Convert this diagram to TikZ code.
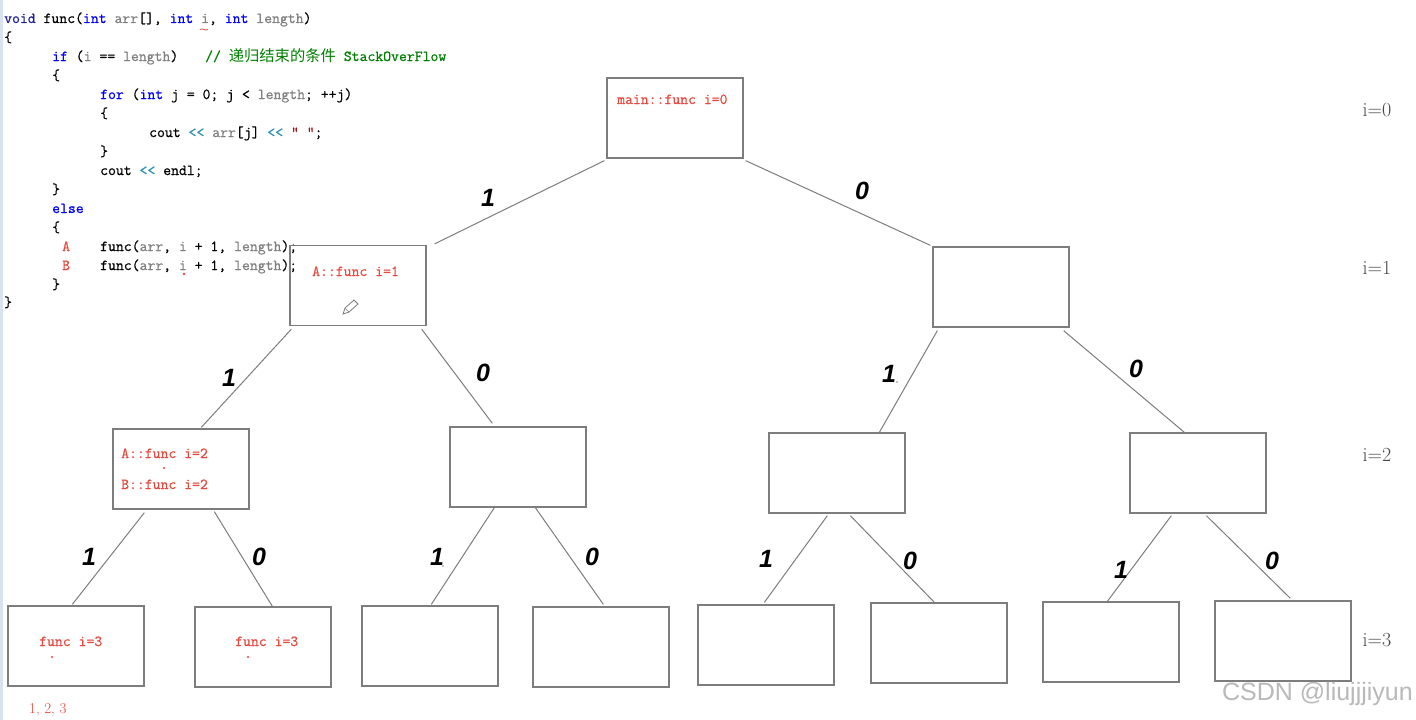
\documentclass[tikz,border=0pt]{standalone}
\usepackage{fontspec}
\newfontfamily\cjkfont{Noto Sans CJK SC}
\newfontfamily\labfont{Liberation Sans}
\newfontfamily\codefam{Latin Modern Mono}[FakeBold=0.7]
\usetikzlibrary{calc}
\definecolor{kwc}{RGB}{0,0,255}
\definecolor{voidc}{RGB}{30,30,150}
\definecolor{prmc}{RGB}{128,128,128}
\definecolor{cmtc}{RGB}{0,128,0}
\definecolor{opc}{RGB}{43,145,175}
\definecolor{strc}{RGB}{163,21,21}
\definecolor{redt}{RGB}{232,72,62}
\definecolor{boxc}{RGB}{125,125,125}
\definecolor{leftc}{RGB}{215,228,240}
\definecolor{lvlc}{RGB}{70,70,70}
\newcommand\mycodefont{\codefam\fontsize{15.3}{18}\selectfont}
\newcommand\CKw[1]{\textcolor{kwc}{#1}}
\newcommand\CVd[1]{\textcolor{voidc}{#1}}
\newcommand\CPr[1]{\textcolor{prmc}{#1}}
\newcommand\COp[1]{\textcolor{opc}{#1}}
\newcommand\CSt[1]{\textcolor{strc}{#1}}
\begin{document}
\begin{tikzpicture}[x=1pt,y=-1pt,
  code/.style={anchor=base west, inner sep=0pt, font=\mycodefont},
  redtxt/.style={anchor=base west, inner sep=0pt, font=\mycodefont, text=redt},
  box/.style={draw=boxc, line width=1.3pt, minimum width=136pt, minimum height=80pt, inner sep=0pt},
  conn/.style={draw=boxc, line width=1pt},
  bit/.style={inner sep=0pt, font=\labfont\bfseries\itshape\fontsize{25}{25}\selectfont},
  lvl/.style={inner sep=0pt, text=lvlc, font=\rmfamily\fontsize{20}{20}\selectfont}]
\fill[white] (0,0) rectangle (1416,720);
\useasboundingbox (0,0) rectangle (1416,720);
\fill[leftc] (0,0) rectangle (2.5,720);

% ---- code ----
\node[code] (c1) at (4,23) {\CVd{void} func(\CKw{int} \CPr{arr}[], \CKw{int} \CPr{i}, \CKw{int} \CPr{length})};
\node[code] (c2) at (4,42) {\{};
\node[code] (c3) at (52,61) {\CKw{if} (\CPr{i} == \CPr{length})};
\node[code, text=cmtc] (c3b) at (205,61) {// {\cjkfont\fontsize{15.3}{18}\selectfont 递归结束的条件}\ StackOverFlow};
\node[code] (c4) at (52,80) {\{};
\node[code] (c5) at (100,99) {\CKw{for} (\CKw{int} j = 0; j < \CPr{length}; ++j)};
\node[code] (c6) at (100,118) {\{};
\node[code] (c7) at (149,137) {cout \COp{<<} \CPr{arr}[j] \COp{<<} \CSt{" "};};
\node[code] (c8) at (100,156) {\}};
\node[code] (c9) at (100,175) {cout \COp{<<} endl;};
\node[code] (c10) at (52,194) {\}};
\node[code] (c11) at (52,213) {\CKw{else}};
\node[code] (c12) at (52,232) {\{};
\node[redtxt] (cA) at (62,251) {A};
\node[code] (c13) at (100,251) {func(\CPr{arr}, \CPr{i} + 1, \CPr{length});};
\node[redtxt] (cB) at (62,270) {B};
\node[code] (c14) at (100,270) {func(\CPr{arr}, \CPr{i} + 1, \CPr{length});};
\node[code] (c15) at (52,289) {\}};
\node[code] (c16) at (4,307) {\}};
\draw[redt, line width=0.8pt] (200,29.5) .. controls (203,27.5) and (205,31.5) .. (208,29.5);
\fill[redt] (184,274) circle (1.3);

% ---- boxes ----
\node[box] (root) at (675,118) {};
\node[box] (L1a) at (358,285.5) {};
\node[box] (L1b) at (1001,287) {};
\node[box] (L2a) at (181,469) {};
\node[box] (L2b) at (518,467) {};
\node[box] (L2c) at (837,473) {};
\node[box] (L2d) at (1198,473) {};
\node[box] (L3a) at (76,646) {};
\node[box] (L3b) at (263,647) {};
\node[box] (L3c) at (430,646) {};
\node[box] (L3d) at (601,647) {};
\node[box] (L3e) at (766,645) {};
\node[box] (L3f) at (939,643) {};
\node[box] (L3g) at (1111,642) {};
\node[box] (L3h) at (1283,641) {};

% ---- box texts ----
\node[redtxt] (t0) at (617,104) {main::func i=0};
\node[redtxt] (t1) at (312,276) {A::func i=1};
\node[redtxt] (t2a) at (121,458) {A::func i=2};
\node[redtxt] (t2b) at (121,489) {B::func i=2};
\fill[redt] (164,468) circle (1.2);
\node[redtxt] (t3a) at (39,646) {func i=3};
\fill[redt] (52,657) circle (1.2);
\node[redtxt] (t3b) at (235,646) {func i=3};
\fill[redt] (248,657) circle (1.2);
\node[anchor=base west, inner sep=0pt, text=redt, font=\rmfamily\fontsize{15}{15}\selectfont] (seq) at (29,713) {1, 2, 3};
% pencil cursor
\draw[boxc, line width=0.8pt, fill=white] (343,314) -- (345,308) -- (354,300) -- (358,304) -- (349,312) -- cycle;
\draw[boxc, line width=0.6pt] (345,308) -- (349,312);

% ---- connectors ----
\draw[conn] ($(root.south west)+(-2,2)$) -- ($(L1a.north east)+(8,-1)$);
\draw[conn] ($(root.south east)+(2,2)$) -- ($(L1b.north west)+(-2,-1)$);
\draw[conn] ($(L1a.south west)+(2,3)$) -- ($(L2a.north west)+(89,-1)$);
\draw[conn] ($(L1a.south east)+(-5,3)$) -- ($(L2b.north west)+(43,-3)$);
\draw[conn] ($(L1b.south west)+(5,3)$) -- ($(L2c.north west)+(111,0)$);
\draw[conn] ($(L1b.south east)+(-6,3)$) -- ($(L2d.north west)+(55,0)$);
\draw[conn] ($(L2a.south west)+(32,3)$) -- ($(L3a.north west)+(65,-1)$);
\draw[conn] ($(L2a.south west)+(102,2)$) -- ($(L3b.north west)+(78,0)$);
\draw[conn] ($(L2b.south west)+(45,0)$) -- ($(L3c.north west)+(70,-1)$);
\draw[conn] ($(L2b.south west)+(86,0)$) -- ($(L3d.north west)+(71,-2)$);
\draw[conn] ($(L2c.south west)+(59,2)$) -- ($(L3e.north west)+(67,-2)$);
\draw[conn] ($(L2c.south west)+(82,2)$) -- ($(L3f.north west)+(64,0)$);
\draw[conn] ($(L2d.south west)+(42,2)$) -- ($(L3g.north west)+(65,0)$);
\draw[conn] ($(L2d.south west)+(77,2)$) -- ($(L3h.north west)+(76,-2)$);

% ---- edge labels ----
\node[bit] (b1) at (488,198) {1};
\node[bit] (b2) at (862,191) {0};
\node[bit] (b3) at (229,378) {1};
\node[bit] (b4) at (483,373) {0};
\node[bit] (b5) at (889,374) {1};
\fill (897,382) circle (0.7);
\node[bit] (b6) at (1136,369) {0};
\node[bit] (b7) at (89,557) {1};
\node[bit] (b8) at (259,557) {0};
\node[bit] (b9) at (437,557) {1};
\fill (443,566) circle (0.7);
\node[bit] (b10) at (592,557) {0};
\node[bit] (b11) at (766,559) {1};
\node[bit] (b12) at (910,561) {0};
\node[bit] (b13) at (1121,570) {1};
\node[bit] (b14) at (1272,561) {0};

% ---- level labels ----
\node[lvl] (i0) at (1377,110) {i=0};
\node[lvl] (i1) at (1377,268) {i=1};
\node[lvl] (i2) at (1377,455) {i=2};
\node[lvl] (i3) at (1377,640) {i=3};

% ---- watermark ----
\node[anchor=east, inner sep=0pt, text=gray!55, font=\labfont\fontsize{25}{25}\selectfont] (wm) at (1413,694) {CSDN @liujjjiyun};
\end{tikzpicture}
\end{document}
